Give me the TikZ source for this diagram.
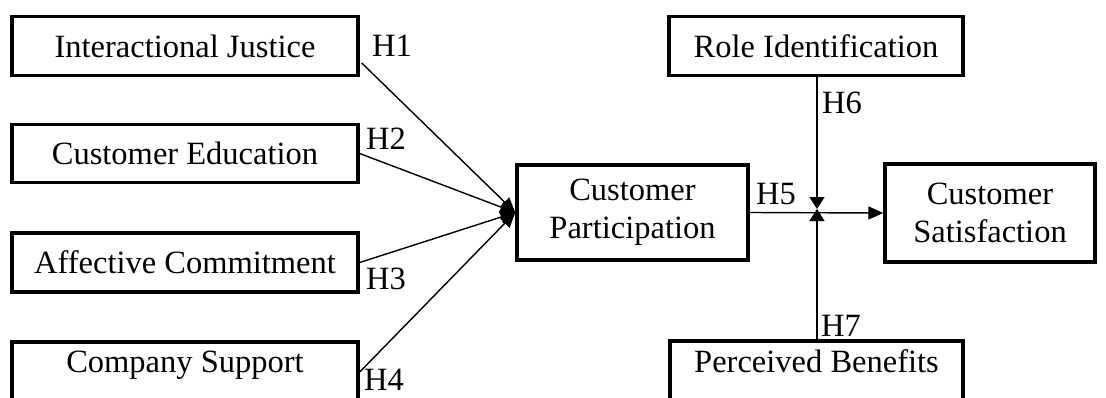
\documentclass[tikz,border=0pt]{standalone}
\usepackage{fontspec}
\setmainfont{Liberation Serif}
\usetikzlibrary{arrows.meta,calc}
\begin{document}
\begin{tikzpicture}[x=1pt,y=-1pt,
  box/.style={draw=black, line width=3.4pt, inner sep=0pt, align=center,
    font=\fontsize{32.5}{38}\selectfont},
  lab/.style={inner sep=0pt, font=\fontsize{32.5}{36}\selectfont},
  conn/.style={line width=1.4pt, -{Triangle[length=15pt,width=13pt]}},
  modarr/.style={line width=1.4pt, -{Triangle[length=12pt,width=15pt]}}]
\path[use as bounding box, clip] (0,0) rectangle (1106,397);
\fill[white] (0,0) rectangle (1106,397);
% left column
\node[box, minimum width=346pt, minimum height=59pt] (ij) at (185,46) {Interactional Justice};
\node[box, minimum width=346pt, minimum height=58pt] (ce) at (185,153.5) {Customer Education};
\node[box, minimum width=346pt, minimum height=59pt] (ac) at (185,262.5) {Affective Commitment};
\node[box, minimum width=346pt, minimum height=60pt, text height=15pt, text depth=15pt] (cs) at (185,372) {Company Support};
% middle
\node[box, minimum width=231pt, minimum height=95pt] (cp) at (632.5,212.5) {Customer\\Participation};
% right
\node[box, minimum width=294pt, minimum height=59pt] (ri) at (816,46) {Role Identification};
\node[box, minimum width=293pt, minimum height=60pt, text height=16pt, text depth=14pt] (pb) at (816.5,371) {Perceived Benefits};
\node[box, minimum width=210pt, minimum height=98pt] (sat) at (990,213) {Customer\\Satisfaction};
% connectors
\draw[conn] ($(ij.east)+(2,17)$) -- (cp.west);
\draw[conn] (ce.east) -- (cp.west);
\draw[conn] (ac.east) -- (cp.west);
\draw[conn] (cs.east) -- (cp.west);
\draw[conn] (cp.east) -- (sat.west);
\coordinate (mod) at (817,209);
\draw[modarr] (mod |- ri.south) -- (mod);
\draw[modarr] (mod |- pb.north) -- (mod);
% labels
\node[lab] (h1) at (392,46) {H1};
\node[lab] (h2) at (386,139) {H2};
\node[lab] (h3) at (386,279) {H3};
\node[lab] (h4) at (384,380) {H4};
\node[lab] (h5) at (776,194) {H5};
\node[lab] (h6) at (842,103) {H6};
\node[lab] (h7) at (841,326) {H7};
\end{tikzpicture}
\end{document}
